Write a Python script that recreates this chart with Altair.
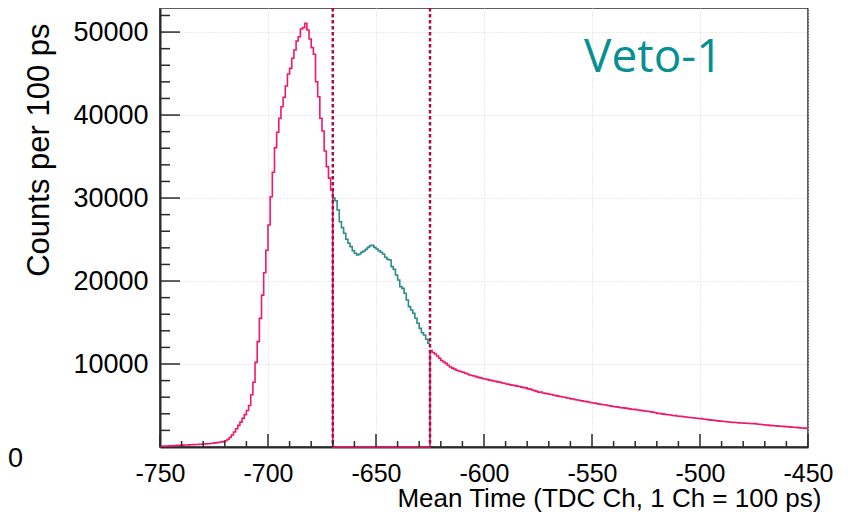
import altair as alt
import pandas as pd

# ---- histogram bin contents (1 channel bins) ----
# bins -750 .. -721
head = [90, 100, 110, 120, 130, 140, 160, 170, 190, 200,
        220, 240, 250, 260, 280, 290, 300, 310, 330, 340,
        360, 380, 400, 430, 460, 500, 530, 570, 610, 650]
# bins -720 .. -701
rise = [760, 900, 1150, 1450, 1800, 2200, 2600, 3000, 3450, 3900,
        4400, 5000, 6300, 7800, 10200, 12700, 15500, 18300, 21000, 23700]
# bins -700 .. -671
peak = [26750, 30150, 33100, 36070, 37920, 39600, 41000, 42140, 43500, 44950,
        45630, 46840, 47840, 48920, 49440, 50370, 50530, 51050, 50250, 49160,
        48120, 47320, 44020, 42210, 39610, 38080, 35670, 33780, 32400, 30970]
# bins -670 .. -626 (selected window, teal)
window = [30000, 29680, 28560, 27150, 26430, 25750, 25030, 24550, 24150, 23650,
          23340, 23140, 23260, 23460, 23620, 23820, 24060, 24260, 24300, 24060,
          23860, 23650, 23460, 23260, 22860, 22620, 22530, 21730, 21410, 20730,
          20120, 19320, 19120, 18520, 17710, 16910, 16510, 16110, 15510, 14910,
          14300, 13770, 13500, 12980, 12500]
# bins -625 .. -451
tail = [11610, 11380, 11200, 10960, 10700, 10420, 10250, 10080, 9850, 9640,
        9500, 9380, 9250, 9160, 9070, 9000, 8880, 8790, 8680, 8610,
        8550, 8480, 8390, 8330, 8260, 8200, 8150, 8060, 8030, 7960,
        7910, 7850, 7800, 7720, 7680, 7600, 7570, 7490, 7440, 7390,
        7330, 7290, 7220, 7160, 7120, 7000, 6980, 6870, 6790, 6700,
        6600, 6620, 6510, 6460, 6420, 6350, 6330, 6240, 6190, 6130,
        6080, 6020, 5990, 5900, 5870, 5800, 5790, 5700, 5660, 5610,
        5560, 5520, 5470, 5420, 5360, 5300, 5290, 5220, 5170, 5130,
        5090, 5060, 5000, 4950, 4910, 4850, 4840, 4790, 4730, 4710,
        4680, 4650, 4590, 4550, 4530, 4500, 4460, 4410, 4380, 4330,
        4300, 4270, 4230, 4180, 4120, 4050, 4040, 3990, 3960, 3920,
        3890, 3860, 3800, 3780, 3740, 3700, 3690, 3640, 3610, 3580,
        3560, 3530, 3490, 3470, 3430, 3420, 3380, 3350, 3300, 3270,
        3240, 3230, 3180, 3150, 3120, 3100, 3080, 3040, 3010, 2990,
        2970, 2950, 2930, 2910, 2890, 2880, 2870, 2850, 2830, 2820,
        2820, 2780, 2740, 2710, 2680, 2650, 2630, 2600, 2580, 2560,
        2540, 2510, 2500, 2480, 2460, 2450, 2420, 2400, 2380, 2360,
        2330, 2310, 2290, 2270, 2250]

x_lo, x_hi = -750, -450
cut_lo, cut_hi = -670, -625
x_major = [-750, -700, -650, -600, -550, -500, -450]
y_major = [10000, 20000, 30000, 40000, 50000]
y_max = 52900
label_text = "Veto-1"

PINK = "#f0186c"
TEAL = "#2b8a8a"
CUT = "#a60c45"
AX = "#2a2a2a"

# ---- build step data ----
pink_rows = []
left = head + rise + peak
for i, v in enumerate(left):
    pink_rows.append({"x": x_lo + i, "y": v})
pink_rows.append({"x": cut_lo, "y": 0})
for i, v in enumerate(tail):
    pink_rows.append({"x": cut_hi + i, "y": v})
pink_rows.append({"x": x_hi, "y": tail[-1]})
for k, r in enumerate(pink_rows):
    r["o"] = k
pink_df = pd.DataFrame(pink_rows)

teal_rows = [{"x": cut_lo + i, "y": v} for i, v in enumerate(window)]
teal_rows.append({"x": cut_hi, "y": window[-1]})
for k, r in enumerate(teal_rows):
    r["o"] = k
teal_df = pd.DataFrame(teal_rows)

xs = alt.Scale(domain=[x_lo, x_hi], nice=False, zero=False)
ys = alt.Scale(domain=[0, y_max], nice=False)

x_axis = alt.Axis(values=x_major, labelExpr="'' + datum.value", labelFontSize=25,
                  labelPadding=14, labelFlush=False, labelOverlap=False,
                  ticks=False, tickSize=0, domain=True,
                  domainColor=AX, domainWidth=2, grid=True, gridColor="#d4d4d4",
                  gridDash=[1, 2], gridWidth=1, labelColor="#000",
                  title="Mean Time (TDC Ch, 1 Ch = 100 ps)", titleFontSize=26,
                  titleFontWeight="normal", titleColor="#000", titleAlign="right",
                  titleBaseline="alphabetic", titleX=661, titleY=59)
y_axis = alt.Axis(values=y_major, labelExpr="'' + datum.value", labelFontSize=27,
                  labelPadding=12, labelFlush=False, labelOverlap=False,
                  ticks=False, tickSize=0, domain=True,
                  domainColor=AX, domainWidth=2, grid=True, gridColor="#d4d4d4",
                  gridDash=[1, 2], gridWidth=1, labelColor="#000",
                  title="Counts per 100 ps", titleFontSize=31, titleFontWeight="normal",
                  titleColor="#000", titleAngle=270, titleAlign="right",
                  titleBaseline="alphabetic", titleX=-112, titleY=15)

pink = alt.Chart(pink_df).mark_line(interpolate="step-after", color=PINK, strokeWidth=1.6).encode(
    x=alt.X("x:Q", scale=xs, axis=x_axis),
    y=alt.Y("y:Q", scale=ys, axis=y_axis),
    order="o:Q",
)
teal = alt.Chart(teal_df).mark_line(interpolate="step-after", color=TEAL, strokeWidth=1.6).encode(
    x=alt.X("x:Q", scale=xs), y=alt.Y("y:Q", scale=ys), order="o:Q"
)
cuts = alt.Chart(pd.DataFrame({"x": [cut_lo, cut_hi]})).mark_rule(
    color=CUT, strokeWidth=2.5, strokeDash=[3.5, 2.5]
).encode(x=alt.X("x:Q", scale=xs))

x_minor = [v for v in range(x_lo, x_hi + 1, 10) if v not in x_major]
y_minor = [v for v in range(2000, y_max, 2000) if v not in y_major]

xt_major = alt.Chart(pd.DataFrame({"x": x_major})).mark_rule(color=AX, strokeWidth=1.5).encode(
    x=alt.X("x:Q", scale=xs), y=alt.value(439), y2=alt.value(426))
xt_minor = alt.Chart(pd.DataFrame({"x": x_minor})).mark_rule(color=AX, strokeWidth=1.5).encode(
    x=alt.X("x:Q", scale=xs), y=alt.value(439), y2=alt.value(433))
yt_major = alt.Chart(pd.DataFrame({"y": y_major})).mark_rule(color=AX, strokeWidth=1.5).encode(
    y=alt.Y("y:Q", scale=ys), x=alt.value(0), x2=alt.value(20))
yt_minor = alt.Chart(pd.DataFrame({"y": y_minor})).mark_rule(color=AX, strokeWidth=1.5).encode(
    y=alt.Y("y:Q", scale=ys), x=alt.value(0), x2=alt.value(10))

veto = alt.Chart(pd.DataFrame({"t": [label_text]})).mark_text(
    font="Open Sans", fontSize=46, color="#078f92", align="left", baseline="alphabetic"
).encode(text="t:N", x=alt.value(424), y=alt.value(64))

zero = alt.Chart(pd.DataFrame({"t": ["0"]})).mark_text(
    font="Liberation Sans", fontSize=27, color="#000", align="left", baseline="middle"
).encode(text="t:N", x=alt.value(-152), y=alt.value(451))

chart = alt.layer(pink, teal, cuts, xt_major, xt_minor, yt_major, yt_minor, veto, zero).properties(
    width=648, height=439,
    autosize=alt.AutoSizeParams(type="none"),
    padding={"left": 152, "top": 0, "right": 32, "bottom": 70},
).configure(font="Liberation Sans").configure_view(stroke=AX, strokeWidth=1.5)

chart.save("out.html", embed_options={"renderer": "svg", "actions": False})
